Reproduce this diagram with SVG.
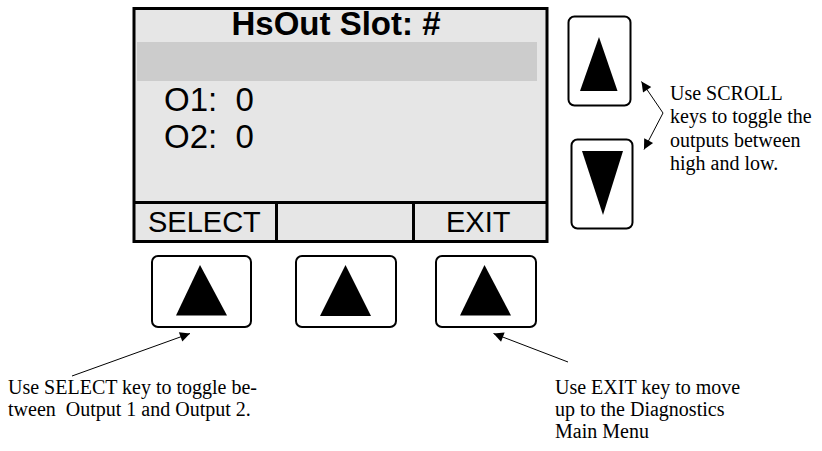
<svg xmlns="http://www.w3.org/2000/svg" width="822" height="451" viewBox="0 0 822 451">
  <defs>
    <style>
      .screen { fill: #e6e6e6; stroke: #000; stroke-width: 3; }
      .div { stroke: #000; stroke-width: 3; fill: none; }
      .key { fill: #fff; stroke: #000; stroke-width: 2; }
      .tri { fill: #000; }
      .lcd { font-family: "Liberation Sans", Arial, sans-serif; fill: #000; }
      .note { font-family: "Liberation Serif", "Times New Roman", serif; font-size: 20px; fill: #000; }
      .conn { stroke: #000; stroke-width: 1; fill: none; }
    </style>
    <marker id="ah" viewBox="0 0 10 10" refX="10" refY="5" markerWidth="14" markerHeight="10" markerUnits="userSpaceOnUse" orient="auto-start-reverse">
      <path d="M0,0 L10,5 L0,10 z" fill="#000"/>
    </marker>
  </defs>

  <g id="screen">
    <rect class="screen" x="134" y="8.5" width="413" height="233"/>
    <rect x="137" y="42" width="400" height="39" fill="#cccccc"/>
    <line class="div" x1="134" y1="202.5" x2="547" y2="202.5"/>
    <line class="div" x1="276.5" y1="202.5" x2="276.5" y2="241.5"/>
    <line class="div" x1="413.5" y1="202.5" x2="413.5" y2="241.5"/>
    <text class="lcd" x="336" y="35" font-size="33" font-weight="bold" text-anchor="middle">HsOut Slot: #</text>
    <text class="lcd" x="164" y="111" font-size="33" xml:space="preserve">O1:  0</text>
    <text class="lcd" x="164" y="148" font-size="33" xml:space="preserve">O2:  0</text>
    <text class="lcd" x="148" y="232" font-size="29">SELECT</text>
    <text class="lcd" x="446" y="232" font-size="29">EXIT</text>
  </g>

  <g id="key-up">
    <rect class="key" x="568.5" y="16.5" width="62" height="89" rx="6"/>
    <polygon class="tri" points="599,37 580,91 617.5,91"/>
  </g>
  <g id="key-down">
    <rect class="key" x="571.5" y="139.5" width="61" height="89" rx="6"/>
    <polygon class="tri" points="582,151 623,151 603,215"/>
  </g>
  <g id="key-select">
    <rect class="key" x="152" y="256" width="99" height="71" rx="6"/>
    <polygon class="tri" points="200,265 176,315.5 227,315.5"/>
  </g>
  <g id="key-mid">
    <rect class="key" x="296" y="256" width="100" height="71" rx="6"/>
    <polygon class="tri" points="345.5,265 320,316 371,316"/>
  </g>
  <g id="key-exit">
    <rect class="key" x="436" y="256" width="100" height="71" rx="6"/>
    <polygon class="tri" points="484.5,265 460,315.5 511,315.5"/>
  </g>

  <g id="connectors">
    <polyline class="conn" points="641.5,81.5 663,113 644,149.5" marker-start="url(#ah)" marker-end="url(#ah)"/>
    <line class="conn" x1="72" y1="376" x2="190" y2="333.5" marker-end="url(#ah)"/>
    <line class="conn" x1="568" y1="362" x2="493.5" y2="333.5" marker-end="url(#ah)"/>
  </g>

  <g id="notes">
    <text class="note" x="670" y="100">Use SCROLL</text>
    <text class="note" x="670" y="123">keys to toggle the</text>
    <text class="note" x="670" y="146.5">outputs between</text>
    <text class="note" x="670" y="170">high and low.</text>
    <text class="note" x="8" y="394">Use SELECT key to toggle be-</text>
    <text class="note" x="8" y="416" xml:space="preserve">tween  Output 1 and Output 2.</text>
    <text class="note" x="555" y="394">Use EXIT key to move</text>
    <text class="note" x="555" y="416">up to the Diagnostics</text>
    <text class="note" x="555" y="438">Main Menu</text>
  </g>
</svg>
